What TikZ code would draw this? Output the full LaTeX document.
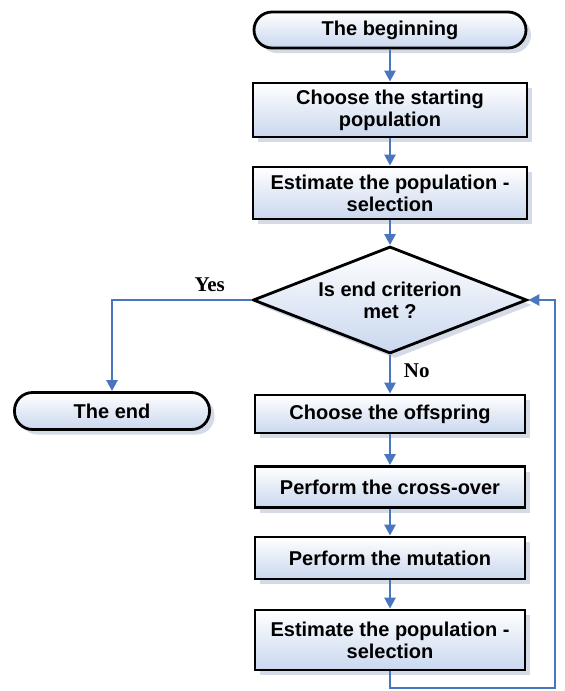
\documentclass[tikz,border=0pt]{standalone}
\usepackage{fontspec}
\setmainfont{Liberation Sans}
\newfontfamily\yesnofont{Liberation Serif}
\usepackage{xcolor}
\usepackage{tikz}
\usetikzlibrary{shapes.geometric, arrows.meta, shadows}

\definecolor{flowblue}{HTML}{4A76C0}
\definecolor{boxfill}{HTML}{C9D7EE}
\definecolor{shadowgray}{HTML}{D4DBE6}

\tikzset{
  shade/.style={top color=white, bottom color=boxfill, draw=black, line width=1.4pt,
    drop shadow={shadow xshift=2.5pt, shadow yshift=-2.5pt, fill=shadowgray, opacity=1}},
  stepbox/.style={rectangle, shade, align=center, inner sep=1pt,
    font=\fontsize{10}{11}\selectfont\bfseries},
  term/.style={stepbox, rounded corners=9pt},
  decision/.style={diamond, aspect=2.56, shade, align=center, inner sep=0pt,
    font=\fontsize{10}{11}\selectfont\bfseries},
  flow/.style={draw=flowblue, line width=1.3pt, -{Triangle[length=5.5pt, width=5.5pt]}},
  yesno/.style={font=\fontsize{10.5}{12}\yesnofont\bfseries}
}

\begin{document}
\begin{tikzpicture}[x=0.5pt, y=-0.5pt]
  \useasboundingbox (0,0) rectangle (565,691);
  \node[term, minimum width=136pt, minimum height=18pt] (Begin) at (390,30) {The beginning};
  \node[stepbox, minimum width=137pt, minimum height=27pt] (Start) at (390,110) {Choose the starting\\population};
  \node[stepbox, minimum width=137pt, minimum height=26pt] (Eval) at (390,193) {Estimate the population -\\selection};
  \node[decision, minimum width=137pt, minimum height=53.5pt] (Check) at (390,300) {Is end criterion\\met ?};
  \node[term, minimum width=97.5pt, minimum height=18.5pt] (End) at (112,411) {The end};
  \node[stepbox, minimum width=135pt, minimum height=19pt] (Offspring) at (390,414) {Choose the offspring};
  \node[stepbox, minimum width=135pt, minimum height=20.5pt] (Cross) at (390,487) {Perform the cross-over};
  \node[stepbox, minimum width=135pt, minimum height=21pt] (Mutate) at (390,558) {Perform the mutation};
  \node[stepbox, minimum width=135pt, minimum height=30pt] (Reeval) at (390,640) {Estimate the population -\\selection};
  \coordinate (LoopA) at (390,688);
  \coordinate (LoopB) at (555,688);
  \coordinate (LoopC) at (555,300);

  \draw[flow] (Begin) -- (Start);
  \draw[flow] (Start) -- (Eval);
  \draw[flow] (Eval) -- (Check);
  \draw[flow] (Check.west) -| (End.north) node[pos=0.15, above, yesno] {Yes};
  \draw[flow] (Check.south) -- (Offspring.north) node[pos=0.4, right, xshift=3pt, yesno] {No};
  \draw[flow] (Offspring) -- (Cross);
  \draw[flow] (Cross) -- (Mutate);
  \draw[flow] (Mutate) -- (Reeval);
  \draw[flow] (Reeval.south) -- (LoopA) -- (LoopB) -- (LoopC) -- (Check.east);
\end{tikzpicture}
\end{document}
